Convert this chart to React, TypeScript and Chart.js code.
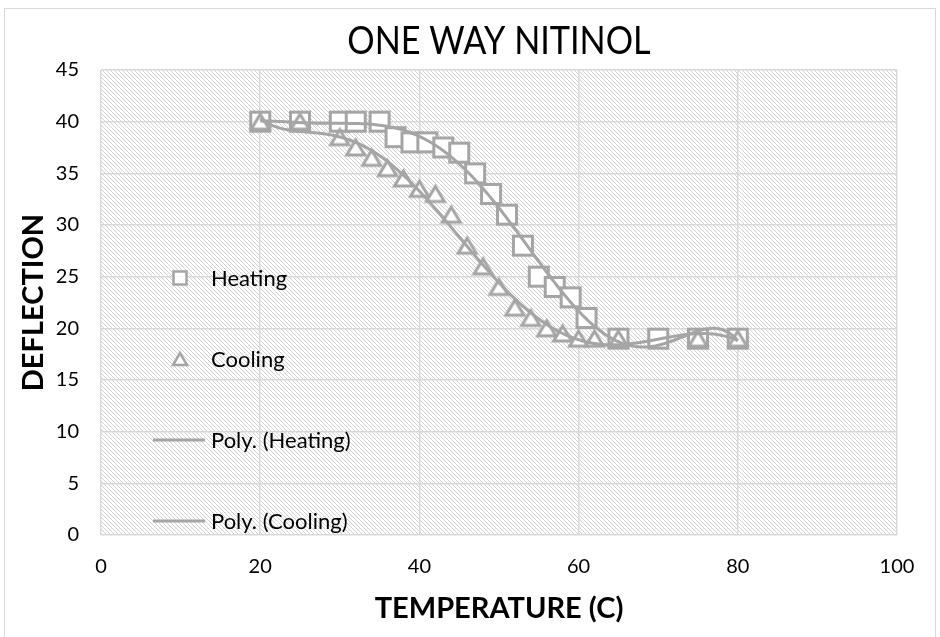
import React, { useEffect, useRef } from "react";
import { Chart, registerables } from "chart.js";

Chart.register(...registerables);

// ---------- data ----------
const chartTitle = "ONE WAY NITINOL";
const xAxisTitle = "TEMPERATURE (C)";
const yAxisTitle = "DEFLECTION";
const xTickValues = [0, 20, 40, 60, 80, 100];
const yTickValues = [0, 5, 10, 15, 20, 25, 30, 35, 40, 45];
const seriesNames = ["Heating", "Cooling", "Poly. (Heating)", "Poly. (Cooling)"];

const heatingTemp = [20, 25, 30, 32, 35, 37, 39, 41, 43, 45, 47, 49, 51, 53, 55, 57, 59, 61, 65, 70, 75, 80];
const heatingDefl = [40, 40, 40, 40, 40, 38.5, 38, 38, 37.5, 37, 35, 33, 31, 28, 25, 24, 23, 21, 19, 19, 19, 19];

const coolingTemp = [20, 25, 30, 32, 34, 36, 38, 40, 42, 44, 46, 48, 50, 52, 54, 56, 58, 60, 62, 65, 75, 80];
const coolingDefl = [40, 40, 38.5, 37.5, 36.5, 35.5, 34.5, 33.5, 33, 31, 28, 26, 24, 22, 21, 20, 19.5, 19, 19, 19, 19, 19];

const trendOrder = 6; // Excel "Poly." trendline order

// ---------- helpers ----------
const FONT = "Lato, 'Liberation Sans', sans-serif";
const GRAY = "#A5A5A5";
const GRID = "#D9D9D9";

// least-squares polynomial trendline, computed from the series data
function polyFit(xs: number[], ys: number[], deg: number) {
  const cx = 50, sx = 30;
  const n = deg + 1;
  const A: number[][] = Array.from({ length: n }, () => new Array(n + 1).fill(0));
  for (let k = 0; k < xs.length; k++) {
    const t = (xs[k] - cx) / sx;
    const p: number[] = [];
    for (let i = 0; i < n; i++) p.push(Math.pow(t, i));
    for (let i = 0; i < n; i++) {
      for (let j = 0; j < n; j++) A[i][j] += p[i] * p[j];
      A[i][n] += p[i] * ys[k];
    }
  }
  for (let c = 0; c < n; c++) {
    let piv = c;
    for (let r = c + 1; r < n; r++) if (Math.abs(A[r][c]) > Math.abs(A[piv][c])) piv = r;
    [A[c], A[piv]] = [A[piv], A[c]];
    for (let r = 0; r < n; r++) {
      if (r === c) continue;
      const f = A[r][c] / A[c][c];
      for (let k = c; k <= n; k++) A[r][k] -= f * A[c][k];
    }
  }
  const coef = A.map((row, i) => row[n] / row[i]);
  return (x: number) => {
    const t = (x - cx) / sx;
    let s = 0;
    for (let i = n - 1; i >= 0; i--) s = s * t + coef[i];
    return s;
  };
}

function trendline(xs: number[], ys: number[], order: number) {
  const f = polyFit(xs, ys, order);
  const lo = Math.min(...xs), hi = Math.max(...xs);
  const pts: { x: number; y: number }[] = [];
  const steps = 240;
  for (let i = 0; i <= steps; i++) {
    const x = lo + ((hi - lo) * i) / steps;
    pts.push({ x, y: f(x) });
  }
  return pts;
}

function squareMarker(side: number, lw: number) {
  const c = document.createElement("canvas");
  const s = Math.ceil(side + lw + 2);
  c.width = s;
  c.height = s;
  const g = c.getContext("2d")!;
  const o = (s - side) / 2;
  g.fillStyle = "#fff";
  g.fillRect(o, o, side, side);
  g.strokeStyle = GRAY;
  g.lineWidth = lw;
  g.strokeRect(o, o, side, side);
  return c;
}

function trianglePath(g: CanvasRenderingContext2D, cx: number, cy: number, w: number, h: number) {
  g.beginPath();
  g.moveTo(cx, cy - h / 2);
  g.lineTo(cx + w / 2, cy + h / 2);
  g.lineTo(cx - w / 2, cy + h / 2);
  g.closePath();
}

function triangleMarker(w: number, h: number, lw: number) {
  const c = document.createElement("canvas");
  const s = Math.ceil(Math.max(w, h) + lw * 3 + 2);
  c.width = s;
  c.height = s;
  const g = c.getContext("2d")!;
  trianglePath(g, s / 2, s / 2, w, h);
  g.fillStyle = "#fff";
  g.fill();
  g.strokeStyle = GRAY;
  g.lineWidth = lw;
  g.lineJoin = "miter";
  g.stroke();
  return c;
}

function hatchPattern(ctx: CanvasRenderingContext2D) {
  const t = document.createElement("canvas");
  t.width = 4;
  t.height = 4;
  const g = t.getContext("2d")!;
  g.fillStyle = "#fff";
  g.fillRect(0, 0, 4, 4);
  g.fillStyle = "#D2D2D2";
  for (let i = 0; i < 4; i++) g.fillRect(i, i, 1, 1);
  return ctx.createPattern(t, "repeat");
}

const decorPlugin = {
  id: "decor",
  beforeDraw(chart: any) {
    const { ctx, chartArea: a, width, height } = chart;
    ctx.save();
    ctx.fillStyle = "#fff";
    ctx.fillRect(0, 0, width, height);
    ctx.strokeStyle = GRID;
    ctx.lineWidth = 1;
    ctx.strokeRect(4.5, 8.5, width - 9, height + 20);
    const pat = hatchPattern(ctx);
    if (pat) {
      ctx.fillStyle = pat;
      ctx.fillRect(a.left, a.top, a.right - a.left, a.bottom - a.top);
    }
    ctx.restore();
  },
  afterDraw(chart: any) {
    const { ctx, chartArea: a } = chart;
    ctx.save();
    // title (slightly condensed, like the source's Calibri)
    ctx.fillStyle = "#000";
    ctx.font = `38px ${FONT}`;
    ctx.textAlign = "center";
    ctx.textBaseline = "middle";
    ctx.translate((a.left + a.right) / 2, 42);
    ctx.scale(0.9, 1);
    ctx.fillText(chartTitle, 0, 0);
    ctx.setTransform(1, 0, 0, 1, 0, 0);

    // legend (overlaps the plot at the left, as in the source)
    const ds = chart.data.datasets.filter((d: any) => d.legendKind);
    const lx = 180, tx = 211, y0 = 278, dy = 81;
    ctx.font = `22px ${FONT}`;
    ctx.textAlign = "left";
    for (let i = 0; i < ds.length; i++) {
      const y = y0 + dy * i;
      const kind = ds[i].legendKind;
      ctx.strokeStyle = GRAY;
      ctx.fillStyle = "#fff";
      if (kind === "square") {
        ctx.lineWidth = 2.5;
        ctx.fillRect(lx - 6.5, y - 6.5, 13, 13);
        ctx.strokeRect(lx - 6.5, y - 6.5, 13, 13);
      } else if (kind === "triangle") {
        ctx.lineWidth = 2.5;
        trianglePath(ctx, lx, y, 14, 12);
        ctx.fill();
        ctx.stroke();
      } else {
        ctx.lineWidth = 3;
        ctx.beginPath();
        ctx.moveTo(153, y);
        ctx.lineTo(205, y);
        ctx.stroke();
      }
      ctx.fillStyle = "#000";
      ctx.fillText(ds[i].label, tx, y + 1);
    }
    ctx.restore();
  },
};

export default function App() {
  const ref = useRef<HTMLCanvasElement | null>(null);

  useEffect(() => {
    if (!ref.current) return;
    const sq = squareMarker(19, 3);
    const tri = triangleMarker(18, 15, 3);

    const chart = new Chart(ref.current, {
      type: "scatter",
      data: {
        datasets: [
          {
            label: seriesNames[0],
            legendKind: "square",
            data: heatingTemp.map((x, i) => ({ x, y: heatingDefl[i] })),
            pointStyle: sq,
            pointRadius: 11,
            showLine: false,
            order: 3,
          } as any,
          {
            label: seriesNames[1],
            legendKind: "triangle",
            data: coolingTemp.map((x, i) => ({ x, y: coolingDefl[i] })),
            pointStyle: tri,
            pointRadius: 11,
            showLine: false,
            order: 2,
          } as any,
          {
            label: seriesNames[2],
            legendKind: "line",
            data: trendline(heatingTemp, heatingDefl, trendOrder),
            showLine: true,
            pointRadius: 0,
            borderColor: GRAY,
            borderWidth: 3,
            order: 1,
          } as any,
          {
            label: seriesNames[3],
            legendKind: "line",
            data: trendline(coolingTemp, coolingDefl, trendOrder),
            showLine: true,
            pointRadius: 0,
            borderColor: GRAY,
            borderWidth: 3,
            order: 0,
          } as any,
        ],
      },
      options: {
        responsive: false,
        animation: false,
        devicePixelRatio: 1,
        layout: { padding: { left: 0, right: 43, top: 70, bottom: 0 } },
        plugins: { legend: { display: false }, tooltip: { enabled: false }, title: { display: false } },
        scales: {
          x: {
            type: "linear",
            min: 0,
            max: 100,
            afterBuildTicks: (s: any) => {
              s.ticks = xTickValues.map((v) => ({ value: v }));
            },
            afterFit: (s: any) => {
              s.height = 102;
            },
            ticks: { padding: 20, color: "#000", font: { size: 20, family: FONT } },
            grid: { color: GRID, lineWidth: 1.5, drawTicks: false },
            border: { display: false },
            title: {
              display: true,
              text: xAxisTitle,
              color: "#000",
              font: { size: 29, weight: "bold", family: FONT },
              padding: { top: 0, bottom: 11 },
            },
          },
          y: {
            type: "linear",
            min: 0,
            max: 45,
            afterBuildTicks: (s: any) => {
              s.ticks = yTickValues.map((v) => ({ value: v }));
            },
            afterFit: (s: any) => {
              s.width = 101;
            },
            ticks: { padding: 22, color: "#000", font: { size: 20, family: FONT } },
            grid: { color: GRID, lineWidth: 1.5, drawTicks: false },
            border: { display: false },
            title: {
              display: true,
              text: yAxisTitle,
              color: "#000",
              font: { size: 29, weight: "bold", family: FONT },
              padding: { top: 16, bottom: 0 },
            },
          },
        },
      },
      plugins: [decorPlugin],
    } as any);

    return () => chart.destroy();
  }, []);

  return (
    <div style={{ position: "absolute", left: 0, top: 0, width: 940, height: 637, background: "#fff" }}>
      <canvas ref={ref} width={940} height={637} style={{ display: "block", width: 940, height: 637 }} />
    </div>
  );
}
